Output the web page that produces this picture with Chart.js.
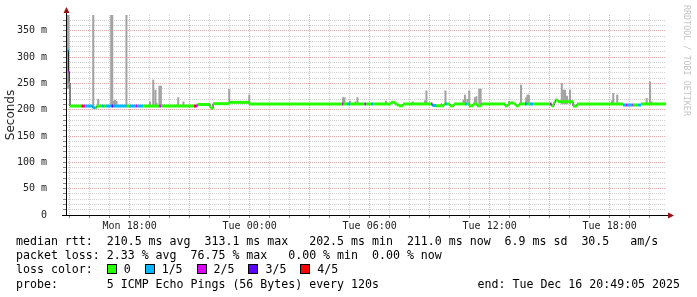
<!DOCTYPE html>
<html>
<head>
<meta charset="utf-8">
<script src="https://cdn.jsdelivr.net/npm/chart.js@4.4.1/dist/chart.umd.min.js"></script>
<style>
  html, body { margin: 0; padding: 0; background: #fff; }
  #wrap { position: relative; width: 697px; height: 297px; overflow: hidden; }
  #chart { position: absolute; left: 0; top: 0; }
  .leg { position: absolute; left: 16px; font-family: "DejaVu Sans Mono", monospace; font-size: 11.6px;
         line-height: 14px; color: #000; white-space: pre; }
  .box { display: inline-block; width: 8px; height: 8px; border: 1px solid #000; vertical-align: -1px; }
  #wm { position: absolute; left: 692px; top: 5px; transform-origin: 0 0; transform: rotate(90deg);
        font-family: "DejaVu Sans Mono", monospace; font-size: 8.4px; line-height: 10px; color: #c4c4c4; white-space: pre; }
</style>
</head>
<body>
<div id="wrap">
  <canvas id="chart" width="697" height="297"></canvas>
  <div class="leg" style="top:234px">median rtt:  210.5 ms avg  313.1 ms max   202.5 ms min  211.0 ms now  6.9 ms sd  30.5   am/s</div>
  <div class="leg" style="top:248px">packet loss: 2.33 % avg  76.75 % max   0.00 % min  0.00 % now</div>
  <div class="leg" id="losslegend" style="top:262px"></div>
  <div class="leg" style="top:277px">probe:       5 ICMP Echo Pings (56 Bytes) every 120s</div>
  <div class="leg" style="top:277px; left:auto; right:17px">end: Tue Dec 16 20:49:05 2025</div>
  <div id="wm">RRDTOOL / TOBI OETIKER</div>
</div>
<script>
// time axis: hours counted from Mon 00:00
const startHour = 14.818; // Mon 14:49:05
const endHour = 44.818;   // Tue 20:49:05
const xTickHours = [18, 24, 30, 36, 42];
const xTickLabels = ["Mon 18:00", "Tue 00:00", "Tue 06:00", "Tue 12:00", "Tue 18:00"];
const yTickValues = [0, 50, 100, 150, 200, 250, 300, 350];
const yTickLabels = ["0", "50 m", "100 m", "150 m", "200 m", "250 m", "300 m", "350 m"];

const lossLabels = ["0", "1/5", "2/5", "3/5", "4/5"];
const lossColors = ["#26ff00", "#00b8ff", "#dd00ff", "#5e00ff", "#ff0000"];

// median rtt (ms), each value holds until the next time; loss = lost pings of 5
const medianTimes = [14.89, 14.94, 14.98, 15.02, 15.60, 15.68, 15.77, 16.15, 16.27, 16.35,
  16.60, 16.72, 16.82, 17.10, 17.17, 17.85, 18.02, 18.32, 18.39, 18.67,
  19.49, 19.57, 21.22, 21.32, 21.39, 22.02, 22.07, 22.17, 22.97, 23.97,
  28.62, 28.69, 28.87, 29.02, 29.74, 29.82, 30.07, 30.17, 31.07, 31.27,
  31.37, 31.47, 31.67, 33.07, 33.14, 33.32, 33.57, 33.62, 33.72, 33.77,
  33.87, 34.02, 34.22, 34.77, 34.87, 34.97, 35.17, 35.37, 35.57, 36.77,
  36.92, 37.02, 37.22, 37.32, 37.47, 37.77, 37.82, 37.89, 38.02, 38.17,
  39.02, 39.09, 39.22, 39.29, 39.42, 40.17, 40.37, 42.67, 42.82, 42.87,
  43.14, 43.19, 43.42, 43.57, 44.82];
const medianValues = [313, 272, 251, 207, 207, 207, 207, 204, 204, 207,
  207, 207, 207, 207, 207, 207, 207, 207, 207, 207,
  207, 207, 207, 207, 210, 205, 202.5, 211.5, 214, 211,
  211, 211, 211, 211, 211, 211, 211, 211, 214, 211,
  209, 207.5, 211, 211, 208, 207.5, 210, 207.5, 211, 211,
  211, 207.5, 211, 211, 211, 207.5, 211, 207.5, 211, 207.5,
  211, 213, 211, 207.5, 211, 211, 211, 211, 211, 211,
  211, 207.5, 214, 218.5, 215.3, 207, 211, 209, 209, 209,
  209, 209, 209, 211, 211];
const medianLoss = [1, 2, 0, 0, 4, 2, 1, 1, 0, 0,
  1, 0, 1, 3, 1, 0, 1, 2, 1, 0,
  2, 0, 4, 2, 0, 0, 0, 0, 0, 0,
  2, 0, 1, 0, 2, 0, 1, 0, 0, 0,
  0, 0, 0, 2, 1, 0, 0, 0, 0, 1,
  0, 0, 0, 1, 0, 0, 0, 0, 0, 0,
  0, 0, 0, 0, 0, 2, 1, 0, 1, 0,
  2, 0, 0, 0, 0, 0, 0, 1, 2, 1,
  2, 0, 1, 0, 0];

// smoke: spread of the single pings (ms)
const smokeTimes = [14.84, 14.89, 14.94, 16.18, 16.43, 17.08, 17.13, 17.19, 17.27, 17.34,
  17.84, 19.02, 19.18, 19.29, 19.34, 19.49, 19.56, 20.43, 20.69, 22.98,
  23.98, 28.67, 28.74, 29.02, 29.29, 29.39, 30.82, 32.15, 32.77, 32.84,
  33.79, 34.69, 34.77, 34.89, 34.98, 35.27, 35.34, 35.48, 35.55, 36.97,
  37.57, 37.83, 37.89, 37.96, 39.61, 39.69, 39.77, 39.87, 40.02, 42.12,
  42.18, 42.38, 43.85, 44.02, 44.10];
const smokeLow = [241, 241, 241, 207, 207, 207, 207, 207, 207, 207,
  207, 207, 207, 207, 207, 207, 207, 207, 207, 214,
  211, 211, 211, 211, 211, 211, 211, 211, 211, 211,
  211, 211, 211, 211, 211, 211, 211, 211, 211, 211,
  211, 211, 211, 211, 211, 211, 211, 211, 211, 211,
  211, 211, 211, 211, 211];
const smokeHigh = [380, 380, 380, 380, 220, 380, 380, 216, 218, 216,
  380, 215, 256.5, 237.5, 213, 245, 245, 223, 215, 239,
  228, 223, 223, 216.6, 215, 223, 216.6, 215, 217, 236,
  236, 218.5, 228, 220, 236, 223, 225, 239.4, 239.4, 216,
  247, 223, 228, 228, 250, 237.5, 237.5, 226, 237.5, 217,
  231, 228, 221.7, 253, 215];

const minorGrid = "#cfcfcf";
const majorGrid = "#e8a8a8";

// grid every hour / every 10 ms
const xGrid = [];
for (let h = Math.ceil(startHour); h <= Math.floor(endHour); h++) xGrid.push(h);
const yGrid = [];
for (let v = 0; v < 380; v += 10) yGrid.push(v);

// loss legend
document.getElementById("losslegend").innerHTML = "loss color:  " + lossLabels
  .map((l, i) => `<span class="box" style="background:${lossColors[i]}"></span> ${l}`)
  .join("  ");

// colored median: flat runs only, the thin dark line makes the steps
const runPoints = [];
for (let i = 0; i < medianTimes.length - 1; i++) {
  runPoints.push({ x: medianTimes[i], y: medianValues[i], loss: medianLoss[i] });
  runPoints.push({ x: medianTimes[i + 1], y: medianValues[i], loss: medianLoss[i] });
  runPoints.push({ x: medianTimes[i + 1], y: null });
}

const axisArrows = {
  id: "axisArrows",
  afterDraw(chart) {
    const { ctx, chartArea: a } = chart;
    const x0 = Math.round(a.left) + 0.5;
    const y0 = Math.round(a.bottom) + 0.5;
    ctx.save();
    ctx.strokeStyle = "#000";
    ctx.lineWidth = 1;
    ctx.beginPath();
    ctx.moveTo(x0, y0);
    ctx.lineTo(x0, a.top - 3);
    ctx.moveTo(a.left - 4, y0);
    ctx.lineTo(a.right + 2, y0);
    ctx.stroke();
    ctx.fillStyle = "#9a1010";
    ctx.beginPath();
    ctx.moveTo(x0, a.top - 8);
    ctx.lineTo(x0 - 3, a.top - 2);
    ctx.lineTo(x0 + 3, a.top - 2);
    ctx.closePath();
    ctx.fill();
    ctx.beginPath();
    ctx.moveTo(a.right + 8, y0);
    ctx.lineTo(a.right + 2, y0 - 3);
    ctx.lineTo(a.right + 2, y0 + 3);
    ctx.closePath();
    ctx.fill();
    ctx.restore();
  }
};

const monoFont = { family: "DejaVu Sans Mono", size: 10 };

new Chart(document.getElementById("chart"), {
  type: "line",
  data: {
    datasets: [
      {
        label: "median",
        order: 0,
        data: runPoints,
        borderColor: lossColors[0],
        borderWidth: 3,
        pointRadius: 0,
        spanGaps: false,
        segment: {
          borderColor: (c) => lossColors[c.chart.data.datasets[c.datasetIndex].data[c.p0DataIndex].loss]
        }
      },
      {
        label: "median steps",
        order: 1,
        data: medianTimes.map((t, i) => ({ x: t, y: medianValues[i] })),
        stepped: true,
        borderColor: "#1c1c1c",
        borderWidth: 1,
        pointRadius: 0
      },
      {
        type: "bar",
        label: "smoke",
        order: 2,
        data: smokeTimes.map((t, i) => ({ x: t, y: [smokeLow[i], smokeHigh[i]] })),
        backgroundColor: "#a3a3a3",
        borderWidth: 0,
        barThickness: 1.4
      }
    ]
  },
  options: {
    responsive: false,
    devicePixelRatio: 1,
    animation: false,
    layout: { padding: { left: 0, right: 31, top: 15, bottom: 0 } },
    plugins: { legend: { display: false }, tooltip: { enabled: false } },
    scales: {
      x: {
        type: "linear",
        min: startHour,
        max: endHour,
        offset: false,
        afterBuildTicks: (axis) => { axis.ticks = xGrid.map((v) => ({ value: v })); },
        afterFit: (axis) => {
          axis.height = 82;
          axis.paddingLeft = 0;
          axis.paddingRight = 0;
        },
        grid: {
          offset: false,
          color: (c) => (c.tick && c.tick.value % 3 === 0 ? majorGrid : minorGrid),
          tickLength: 3,
          tickColor: "#888"
        },
        border: { display: false, dash: [1, 1] },
        ticks: {
          autoSkip: false,
          maxRotation: 0,
          padding: 2,
          color: "#222",
          font: monoFont,
          callback: (v) => {
            const k = xTickHours.indexOf(v);
            return k >= 0 ? xTickLabels[k] : "";
          }
        }
      },
      y: {
        type: "linear",
        min: 0,
        max: 380,
        afterBuildTicks: (axis) => { axis.ticks = yGrid.map((v) => ({ value: v })); },
        afterFit: (axis) => {
          axis.width = 66;
          axis.paddingTop = 0;
          axis.paddingBottom = 0;
        },
        grid: {
          color: (c) => (c.tick && c.tick.value % 50 === 0 ? majorGrid : minorGrid),
          tickLength: 3,
          tickColor: "#888"
        },
        border: { display: false, dash: [1, 1] },
        ticks: {
          autoSkip: false,
          padding: 16,
          color: "#222",
          font: monoFont,
          callback: (v) => {
            const k = yTickValues.indexOf(v);
            return k >= 0 ? yTickLabels[k] : "";
          }
        },
        title: {
          display: true,
          text: "Seconds",
          color: "#222",
          font: { family: "DejaVu Sans", size: 12 },
          padding: { top: 4, bottom: 0 }
        }
      }
    }
  },
  plugins: [axisArrows]
});
</script>
</body>
</html>
